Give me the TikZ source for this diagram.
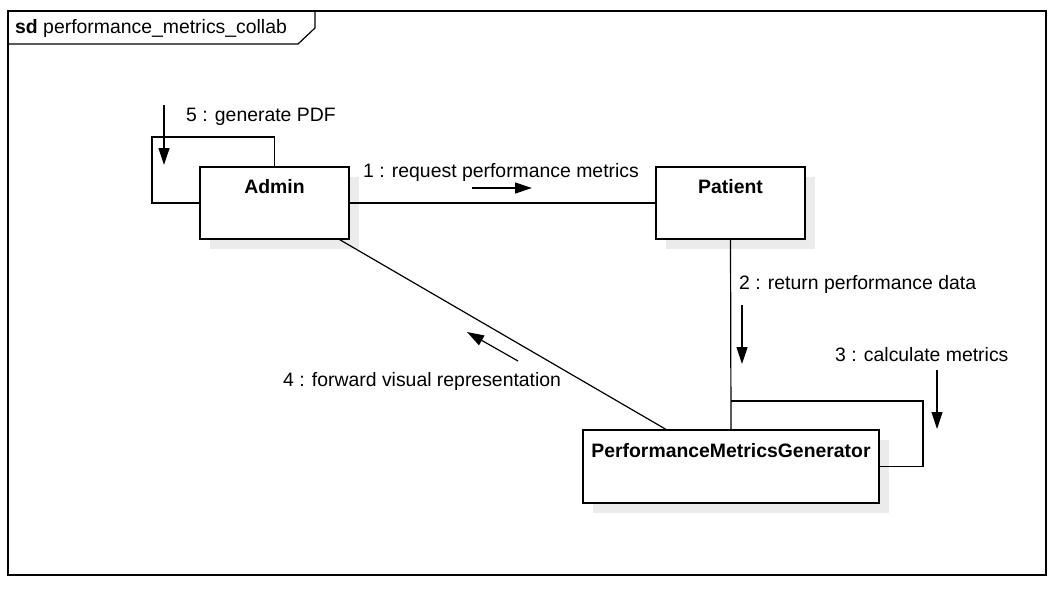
\documentclass[tikz,border=0pt]{standalone}
\usepackage{fontspec}
\setmainfont{Liberation Sans}
\usetikzlibrary{arrows.meta,shadows}
\begin{document}
\begin{tikzpicture}[x=1pt,y=-1pt,
  every node/.style={font=\fontsize{19.4}{22}\selectfont, inner sep=0pt},
  objbox/.style={draw, line width=1.2pt, fill=white, minimum width=#1, minimum height=72pt,
     general shadow={shadow xshift=10pt, shadow yshift=-10pt, fill=black!8}},
  objname/.style={font=\fontsize{19.4}{22}\selectfont\bfseries, anchor=center},
  link/.style={line width=1.2pt},
  msg/.style={line width=1.2pt, -{Triangle[length=17pt,width=11pt]}},
  msglabel/.style={anchor=west}
]
\useasboundingbox (0,0) rectangle (1059,592);
% frame
\draw[line width=1.2pt] (8,11) rectangle (1046,575);
\draw[line width=1.2pt] (8,44) -- (298,44) -- (315,28) -- (315,11);
\node[anchor=west] (title) at (15,28) {\textbf{sd}\space performance\_metrics\_collab};

% objects
\node[objbox=149pt] (admin) at (274.5,203) {};
\node[objbox=149pt] (patient) at (730.5,203) {};
\node[objbox=296pt, minimum height=73pt] (pmg) at (731,466.5) {};
\node[objname] (adminname) at (274.5,187) {Admin};
\node[objname] (patientname) at (730.5,187) {Patient};
\node[objname] (pmgname) at (731,451) {PerformanceMetricsGenerator};

% links
\draw[link] (admin) -- (patient);
\draw[link] (patient.south) -- (pmg.north);
\draw[link] ([xshift=-10pt]admin.south east) -- ([xshift=-65pt]pmg.north);
\coordinate (aloop) at (152,137);
\draw[link] (admin.west) -| (aloop) -| (admin.north);
\coordinate (ploop) at (923,401);
\draw[link] (pmg.east) -| (ploop) -- (ploop -| pmg.north);

% messages
\coordinate (m1s) at (472,188); \coordinate (m1e) at (532,188);
\draw[msg] (m1s) -- (m1e);
\node[msglabel] (l1) at (363,172) {1 : request performance metrics};

\coordinate (m2s) at (742,305); \coordinate (m2e) at (742,364);
\draw[msg] (m2s) -- (m2e);
\node[msglabel] (l2) at (739,284) {2 : return performance data};

\coordinate (m3s) at (937,370); \coordinate (m3e) at (937,429);
\draw[msg] (m3s) -- (m3e);
\node[msglabel] (l3) at (835,355) {3 : calculate metrics};

\coordinate (m4s) at (518,361); \coordinate (m4e) at (467,332);
\draw[msg] (m4s) -- (m4e);
\node[msglabel] (l4) at (283,381) {4 : forward visual representation};

\coordinate (m5s) at (164,105); \coordinate (m5e) at (164,165);
\draw[msg] (m5s) -- (m5e);
\node[msglabel] (l5) at (186,117) {5 : generate PDF};
\end{tikzpicture}
\end{document}
